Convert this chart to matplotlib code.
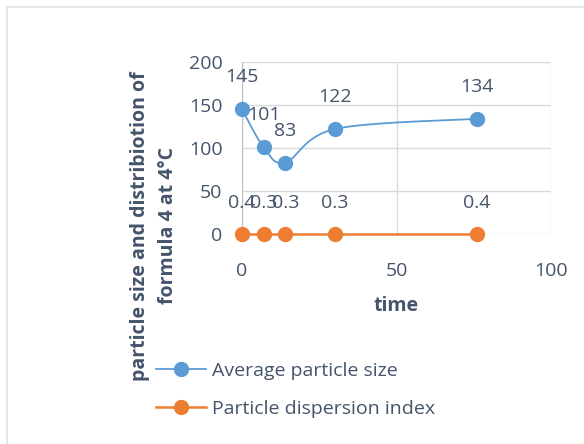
import numpy as np
import matplotlib.pyplot as plt
from matplotlib.lines import Line2D

# chart data
time = [0, 7, 14, 30, 76]
avg_size = [145, 101, 83, 122, 134]
dispersion = [0.4, 0.3, 0.3, 0.3, 0.4]
size_labels = ['145', '101', '83', '122', '134']
disp_labels = ['0.4', '0.3', '0.3', '0.3', '0.4']
x_ticks = [0, 50, 100]
y_ticks = [0, 50, 100, 150, 200]

blue = '#5b9bd5'
orange = '#ed7d31'
txt = '#44546a'
grid = '#d9d9d9'

plt.rcParams['font.family'] = 'Open Sans'


def smooth(x, y, n=40):
    # excel-like smoothed line (catmull-rom bezier)
    x = np.asarray(x, float)
    y = np.asarray(y, float)
    px = np.concatenate([[x[0]], x, [x[-1]]])
    py = np.concatenate([[y[0]], y, [y[-1]]])
    xs, ys = [], []
    t = np.linspace(0, 1, n)
    for i in range(len(x) - 1):
        p0 = np.array([px[i], py[i]])
        p1 = np.array([px[i + 1], py[i + 1]])
        p2 = np.array([px[i + 2], py[i + 2]])
        p3 = np.array([px[i + 3], py[i + 3]])
        c1 = p1 + (p2 - p0) / 6
        c2 = p2 - (p3 - p1) / 6
        b = (np.outer((1 - t) ** 3, p1) + np.outer(3 * (1 - t) ** 2 * t, c1)
             + np.outer(3 * (1 - t) * t ** 2, c2) + np.outer(t ** 3, p2))
        xs.extend(b[:, 0])
        ys.extend(b[:, 1])
    return xs, ys


fig = plt.figure(figsize=(5.84, 4.44), dpi=100)
ax = fig.add_axes([242 / 584, 1 - 234 / 444, (551 - 242) / 584, (234 - 62) / 444])

sx, sy = smooth(time, avg_size)
ax.plot(sx, sy, color=blue, lw=1.3, clip_on=False, zorder=3)
ax.plot(time, avg_size, 'o', color=blue, ms=10, clip_on=False, zorder=4)
ax.plot(time, [0] * len(time), '-', color=orange, lw=1.8, clip_on=False, zorder=3)
ax.plot(time, [0] * len(time), 'o', color=orange, ms=10, clip_on=False, zorder=4)

for x, y, s in zip(time, avg_size, size_labels):
    ax.annotate(s, (x, y), xytext=(0, 23), textcoords='offset points',
                ha='center', va='center', fontsize=14, color=txt)
for x, s in zip(time, disp_labels):
    ax.annotate(s, (x, 0), xytext=(0, 22), textcoords='offset points',
                ha='center', va='center', fontsize=14, color=txt)

ax.set_xlim(0, 100)
ax.set_ylim(0, 200)
ax.set_xticks(x_ticks)
ax.set_yticks(y_ticks)
ax.tick_params(length=0, labelsize=14, colors=txt)
ax.tick_params(axis='y', pad=14)
ax.tick_params(axis='x', pad=20)
ax.grid(True, color=grid, lw=1)
ax.set_axisbelow(True)
for side in ['top', 'right', 'bottom']:
    ax.spines[side].set_visible(False)
ax.spines['left'].set_color('#bfbfbf')

ax.set_xlabel('time', fontsize=14, fontweight='bold', color=txt, labelpad=12)
fig.text(154 / 584, 1 - 226 / 444,
         'particle size and distribiotion of\nformula 4 at 4°C',
         rotation=90, ha='center', va='center', multialignment='center',
         fontsize=14, fontweight='bold', color=txt, linespacing=1.5)

handles = [Line2D([], [], color=blue, marker='o', ms=10, lw=1.3),
           Line2D([], [], color=orange, marker='o', ms=10, lw=1.8)]
fig.legend(handles, ['Average particle size', 'Particle dispersion index'],
           loc='upper left', bbox_to_anchor=(138 / 584, 1 - 344 / 444),
           frameon=False, fontsize=14, labelcolor=txt, handlelength=2.6,
           labelspacing=1.05, handletextpad=0.3)

# chart border
fig.add_artist(Line2D([7 / 584, 1], [1 - 7 / 444] * 2, color='#dde1e6', lw=1.2))
fig.add_artist(Line2D([7 / 584] * 2, [0, 1 - 7 / 444], color='#dde1e6', lw=1.2))

fig.savefig('out.png', dpi=100)
